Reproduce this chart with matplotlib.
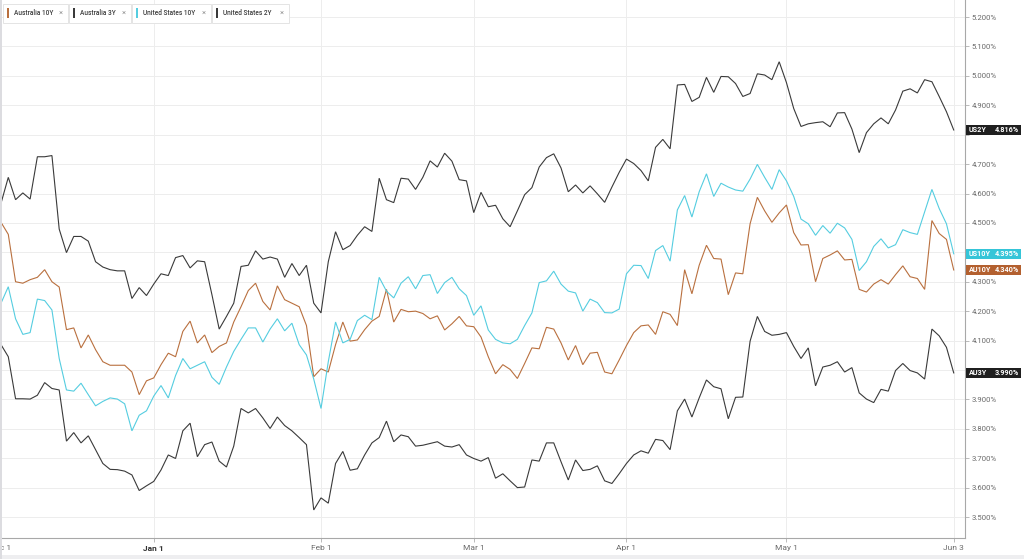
import matplotlib
matplotlib.use("Agg")
import matplotlib.pyplot as plt
import matplotlib.transforms as mtransforms
from matplotlib.patches import Rectangle
import numpy as np
import pandas as pd

plt.rcParams['font.family'] = ['Roboto', 'DejaVu Sans']

# ---------------- data ----------------
dates = pd.bdate_range("2023-12-01", "2024-06-03")

us2y = [4.567, 4.655, 4.579, 4.602, 4.581, 4.725, 4.725, 4.729, 4.479, 4.399,
        4.454, 4.454, 4.438, 4.368, 4.350, 4.341, 4.337, 4.337, 4.243, 4.280,
        4.253, 4.292, 4.327, 4.321, 4.382, 4.389, 4.347, 4.371, 4.368, 4.256,
        4.139, 4.182, 4.227, 4.352, 4.356, 4.405, 4.377, 4.384, 4.377, 4.315,
        4.362, 4.321, 4.356, 4.227, 4.194, 4.368, 4.470, 4.409, 4.423, 4.458,
        4.487, 4.471, 4.652, 4.579, 4.569, 4.652, 4.649, 4.614, 4.655, 4.711,
        4.690, 4.737, 4.710, 4.647, 4.643, 4.535, 4.604, 4.555, 4.560, 4.514,
        4.487, 4.541, 4.596, 4.620, 4.690, 4.722, 4.735, 4.687, 4.606, 4.629,
        4.602, 4.626, 4.599, 4.570, 4.622, 4.672, 4.717, 4.702, 4.678, 4.643,
        4.757, 4.784, 4.752, 4.969, 4.971, 4.913, 4.927, 4.995, 4.944, 4.998,
        4.997, 4.974, 4.930, 4.940, 5.007, 5.003, 4.987, 5.048, 4.977, 4.889,
        4.828, 4.837, 4.841, 4.844, 4.827, 4.874, 4.875, 4.819, 4.739, 4.807,
        4.837, 4.857, 4.837, 4.884, 4.948, 4.956, 4.942, 4.987, 4.980, 4.930,
        4.878, 4.816]

au10y = [4.502, 4.461, 4.300, 4.295, 4.307, 4.315, 4.341, 4.300, 4.282, 4.137,
         4.143, 4.075, 4.119, 4.069, 4.028, 4.016, 4.016, 4.016, 3.993, 3.916,
         3.963, 3.973, 4.018, 4.057, 4.045, 4.131, 4.166, 4.092, 4.119, 4.059,
         4.080, 4.092, 4.163, 4.215, 4.270, 4.295, 4.233, 4.204, 4.286, 4.239,
         4.227, 4.215, 4.151, 3.977, 4.004, 3.993, 4.086, 4.163, 4.098, 4.102,
         4.137, 4.166, 4.182, 4.274, 4.163, 4.206, 4.198, 4.200, 4.192, 4.174,
         4.184, 4.136, 4.157, 4.182, 4.150, 4.147, 4.112, 4.045, 3.987, 4.018,
         4.002, 3.971, 4.022, 4.075, 4.072, 4.145, 4.139, 4.092, 4.034, 4.083,
         4.018, 4.057, 4.060, 3.993, 3.987, 4.034, 4.083, 4.127, 4.150, 4.153,
         4.121, 4.198, 4.189, 4.151, 4.341, 4.259, 4.356, 4.424, 4.379, 4.377,
         4.256, 4.330, 4.327, 4.497, 4.587, 4.541, 4.502, 4.534, 4.561, 4.467,
         4.425, 4.426, 4.300, 4.379, 4.391, 4.405, 4.374, 4.376, 4.274, 4.265,
         4.292, 4.307, 4.292, 4.324, 4.354, 4.317, 4.311, 4.274, 4.508, 4.464,
         4.444, 4.340]

us10y = [4.227, 4.283, 4.174, 4.121, 4.127, 4.241, 4.236, 4.204, 4.039, 3.932,
         3.928, 3.955, 3.916, 3.878, 3.893, 3.905, 3.901, 3.885, 3.793, 3.846,
         3.861, 3.911, 3.947, 3.905, 3.981, 4.039, 4.004, 4.016, 4.028, 3.975,
         3.951, 4.010, 4.063, 4.104, 4.143, 4.143, 4.095, 4.139, 4.174, 4.133,
         4.159, 4.086, 4.051, 3.969, 3.869, 4.028, 4.163, 4.092, 4.104, 4.168,
         4.186, 4.171, 4.315, 4.268, 4.245, 4.295, 4.317, 4.276, 4.321, 4.324,
         4.260, 4.297, 4.315, 4.276, 4.253, 4.186, 4.218, 4.136, 4.104, 4.092,
         4.089, 4.104, 4.151, 4.194, 4.297, 4.303, 4.336, 4.292, 4.268, 4.262,
         4.200, 4.241, 4.229, 4.195, 4.194, 4.207, 4.327, 4.356, 4.355, 4.311,
         4.406, 4.423, 4.370, 4.544, 4.593, 4.520, 4.606, 4.667, 4.590, 4.635,
         4.622, 4.612, 4.608, 4.649, 4.699, 4.655, 4.614, 4.681, 4.643, 4.590,
         4.513, 4.497, 4.458, 4.491, 4.465, 4.499, 4.483, 4.444, 4.338, 4.368,
         4.420, 4.446, 4.415, 4.426, 4.477, 4.467, 4.461, 4.538, 4.614, 4.549,
         4.497, 4.395]

au3y = [4.086, 4.045, 3.902, 3.902, 3.901, 3.914, 3.957, 3.937, 3.932, 3.758,
        3.787, 3.752, 3.776, 3.729, 3.682, 3.662, 3.661, 3.656, 3.643, 3.590,
        3.606, 3.621, 3.660, 3.711, 3.699, 3.793, 3.819, 3.705, 3.746, 3.755,
        3.690, 3.670, 3.741, 3.869, 3.854, 3.869, 3.837, 3.801, 3.840, 3.811,
        3.793, 3.770, 3.746, 3.524, 3.565, 3.547, 3.682, 3.723, 3.659, 3.664,
        3.711, 3.752, 3.770, 3.826, 3.756, 3.779, 3.773, 3.741, 3.744, 3.750,
        3.756, 3.741, 3.738, 3.746, 3.711, 3.699, 3.690, 3.702, 3.632, 3.647,
        3.623, 3.600, 3.602, 3.694, 3.690, 3.752, 3.752, 3.688, 3.626, 3.694,
        3.658, 3.662, 3.674, 3.623, 3.614, 3.647, 3.682, 3.711, 3.725, 3.717,
        3.764, 3.760, 3.729, 3.861, 3.901, 3.840, 3.905, 3.966, 3.943, 3.936,
        3.834, 3.907, 3.908, 4.098, 4.182, 4.131, 4.118, 4.121, 4.127, 4.080,
        4.039, 4.075, 3.946, 4.010, 4.016, 4.028, 3.993, 4.008, 3.922, 3.901,
        3.889, 3.934, 3.928, 3.998, 4.022, 3.998, 3.990, 3.969, 4.139, 4.116,
        4.077, 3.990]

legend_names = ["Australia 10Y", "Australia 3Y", "United States 10Y", "United States 2Y"]
end_tags = ["AU10Y", "AU3Y", "US10Y", "US2Y"]
series = [au10y, au3y, us10y, us2y]
line_colors = ["#b9703f", "#3a3a3a", "#55cde0", "#3a3a3a"]
box_colors = ["#b3602f", "#1f1f1f", "#35c5d8", "#1f1f1f"]

tick_dates = ["2023-12-01", "2024-01-01", "2024-02-01", "2024-03-01",
              "2024-04-01", "2024-05-01", "2024-06-03"]
tick_labels = ["Dec 1", "Jan 1", "Feb 1", "Mar 1", "Apr 1", "May 1", "Jun 3"]
y_ticks = [3.5, 3.6, 3.7, 3.8, 3.9, 4.0, 4.1, 4.2, 4.3, 4.4, 4.5, 4.6,
           4.7, 4.8, 4.9, 5.0, 5.1, 5.2]
hidden_y = [4.0, 4.4, 4.8]   # covered by the end-value tags

# ---------------- figure ----------------
W, H = 1024, 559
fig = plt.figure(figsize=(W / 100, H / 100), dpi=100)
fig.patch.set_facecolor("white")

def fx(px):
    return px / W

def fy(py):
    return 1 - py / H

ax_left, ax_right, ax_top, ax_bot = 0, 965, 0, 538
ax = fig.add_axes([fx(ax_left), fy(ax_bot), fx(ax_right - ax_left), (ax_bot - ax_top) / H])
ax.set_facecolor("white")

x = np.arange(len(dates))
for s, c in zip(series, line_colors):
    ax.plot(x, s, color=c, lw=0.8, solid_joinstyle="miter", zorder=3)

ax.set_xlim(-0.14, 132.55)
ax.set_ylim(3.4286, 5.258)

pos = [int(np.searchsorted(dates, pd.Timestamp(d))) for d in tick_dates]
ax.set_xticks(pos)
ax.set_xticklabels(tick_labels)
for lbl, t in zip(ax.get_xticklabels(), tick_labels):
    lbl.set_fontsize(6)
    if t == "Jan 1":
        lbl.set_color("#333333")
        lbl.set_fontweight("bold")
    else:
        lbl.set_color("#6a6a6a")

ax.yaxis.tick_right()
ax.set_yticks(y_ticks)
ax.set_yticklabels(["" if any(abs(v - h) < 1e-9 for h in hidden_y) else f"{v:.3f}%"
                    for v in y_ticks])
ax.tick_params(axis="y", length=3, width=0.6, color="#b0b0b0", labelsize=5.6,
               labelcolor="#6a6a6a", pad=2)
ax.tick_params(axis="x", length=3, width=0.6, color="#b0b0b0", pad=2)

ax.grid(True, color="#ededed", lw=0.7)
ax.set_axisbelow(True)
for sp in ["top", "left"]:
    ax.spines[sp].set_visible(False)
ax.spines["right"].set_color("#a8a8a8")
ax.spines["bottom"].set_color("#a8a8a8")
ax.spines["right"].set_linewidth(0.8)
ax.spines["bottom"].set_linewidth(0.8)

# ---------------- end-value tags ----------------
trans = mtransforms.blended_transform_factory(fig.transFigure, ax.transData)
box_h = 10.5 / 294.0
for s, tag, bc in zip(series, end_tags, box_colors):
    v = s[-1]
    r = Rectangle((fx(966), v - box_h / 2), fx(1021) - fx(966), box_h,
                  transform=trans, facecolor=bc, edgecolor="none",
                  clip_on=False, zorder=10)
    ax.add_patch(r)
    ax.text(fx(969), v, tag, transform=trans, color="white", fontsize=5.2,
            fontweight="bold", ha="left", va="center", zorder=11, clip_on=False)
    ax.text(fx(1019), v, f"{v:.3f}%", transform=trans, color="white", fontsize=5.2,
            fontweight="bold", ha="right", va="center", zorder=11, clip_on=False)

# ---------------- legend chips ----------------
chips = [(3, 68), (69, 131), (132, 211), (212, 289)]
for (x0, x1), name, c in zip(chips, legend_names, line_colors):
    fig.patches.append(Rectangle((fx(x0), fy(23)), fx(x1 - x0), 19 / H,
                                 transform=fig.transFigure, facecolor="white",
                                 edgecolor="#e4e4e4", lw=0.7, zorder=5))
    fig.patches.append(Rectangle((fx(x0 + 4), fy(18)), fx(2), 10 / H,
                                 transform=fig.transFigure, facecolor=c,
                                 edgecolor="none", zorder=6))
    fig.text(fx(x0 + 11), fy(13.2), name, fontsize=4.7, color="#3c3c3c",
             fontweight="medium", ha="left", va="center", zorder=7)
    fig.text(fx(x1 - 7), fy(13.2), "\u00d7", fontsize=5.5, color="#9a9a9a",
             ha="center", va="center", zorder=7)

# ---------------- frame ----------------
fig.patches.append(Rectangle((0, 0), 1, 4 / H, transform=fig.transFigure,
                             facecolor="#eeeef0", edgecolor="none", zorder=0))
fig.patches.append(Rectangle((0, 0), 1.5 / W, 1, transform=fig.transFigure,
                             facecolor="#dcdce0", edgecolor="none", zorder=20))

fig.savefig("out.png", dpi=100, facecolor="white")
